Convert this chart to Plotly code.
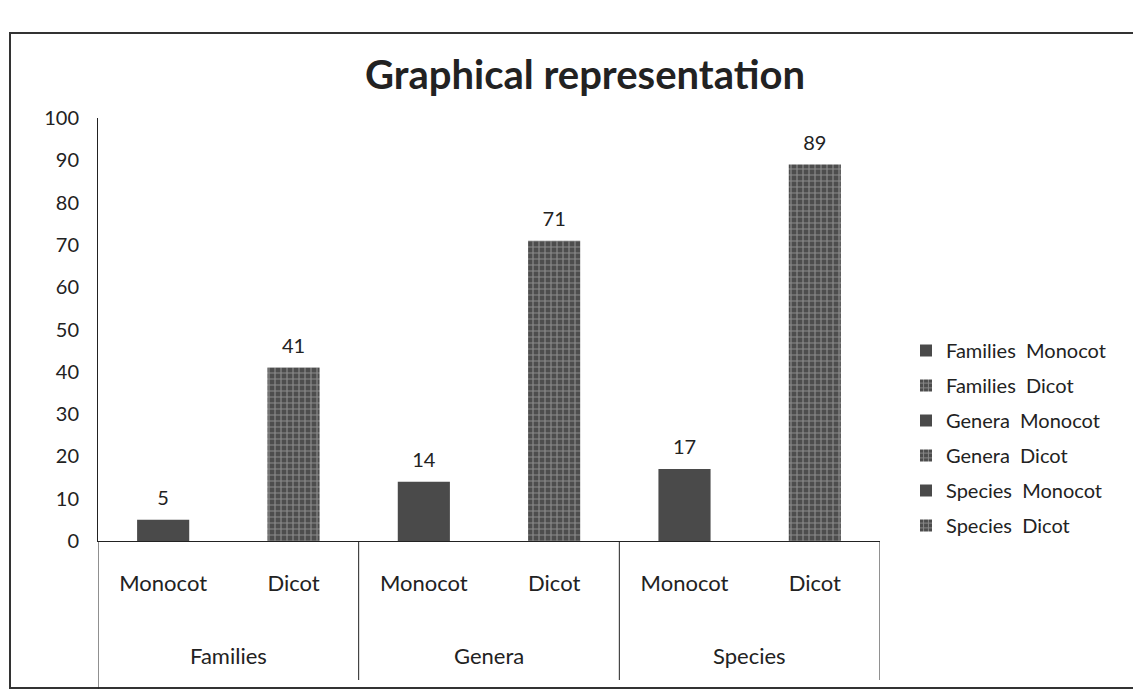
import plotly.graph_objects as go

# ---- data ----
groups = ["Families", "Families", "Genera", "Genera", "Species", "Species"]
subcats = ["Monocot", "Dicot", "Monocot", "Dicot", "Monocot", "Dicot"]
values = [5, 41, 14, 71, 17, 89]
series_names = ["Families  Monocot", "Families  Dicot", "Genera  Monocot",
                "Genera  Dicot", "Species  Monocot", "Species  Dicot"]
y_ticks = [0, 10, 20, 30, 40, 50, 60, 70, 80, 90, 100]

FONT = "Lato, 'Noto Sans', sans-serif"
TXT = "#222222"
cats = [f"{g} {s}" for g, s in zip(groups, subcats)]

fig = go.Figure()
for i in range(len(values)):
    if subcats[i] == "Monocot":
        marker = dict(color="#4a4a4a", line=dict(width=0))
    else:
        marker = dict(color="#4d4d4d", line=dict(width=0),
                      pattern=dict(shape="+", fgcolor="#c8c8c8", bgcolor="#4d4d4d",
                                   size=6, solidity=0.35))
    fig.add_trace(go.Bar(
        x=[cats[i]], y=[values[i]], name=series_names[i],
        marker=marker, width=0.4, legendgroup=series_names[i],
    ))

fig.add_trace(go.Scatter(
    x=cats, y=values, mode="markers+text",
    text=[str(v) for v in values], textposition="top center",
    textfont=dict(size=20, color=TXT, family=FONT),
    marker=dict(size=14, color="rgba(0,0,0,0)"),
    showlegend=False, hoverinfo="skip", cliponaxis=False,
))

# page-pixel helpers (page has an 8px body margin)
OFF = 8
W, H = 1141, 697
L_pg, R_pg = 98, 880
B_pg, T_pg = 541, 118
px0, px1 = L_pg - OFF, R_pg - OFF
py0, py100 = B_pg - OFF, T_pg - OFF
def xp(p): return (p - L_pg) / (R_pg - L_pg)
def yp(p): return (B_pg - p) / (B_pg - T_pg)

# group labels and dividers on the category axis
uniq = []
for g in groups:
    if g not in uniq:
        uniq.append(g)
bounds = [-0.5]
for g in uniq:
    idx = [i for i, gg in enumerate(groups) if gg == g]
    fig.add_annotation(x=(idx[0] + idx[-1]) / 2, xref="x", y=yp(655), yref="paper",
                       text=g, showarrow=False, yanchor="middle",
                       font=dict(size=22, color=TXT, family=FONT))
    bounds.append(idx[-1] + 0.5)
for j, b in enumerate(bounds):
    fig.add_shape(type="line", xref="x", yref="paper", x0=b, x1=b,
                  y0=0, y1=yp(689 if j == 0 else 680),
                  line=dict(color="#222222", width=1))

# outer frame of the printed figure
fig.add_shape(type="rect", xref="paper", yref="paper",
              x0=xp(10), x1=xp(1137), y0=yp(688), y1=yp(33),
              line=dict(color="#333333", width=2), layer="below")

fig.update_layout(
    width=W, height=H,
    margin=dict(l=px0, r=W - px1, t=py100, b=H - py0, autoexpand=False),
    paper_bgcolor="white", plot_bgcolor="white",
    barmode="overlay",
    font=dict(family=FONT, color=TXT),
    title=dict(text="<b>Graphical representation</b>", xref="paper", x=xp(585),
               xanchor="center", yref="container", y=1 - (75 - OFF) / H, yanchor="middle",
               font=dict(size=40, color=TXT, family=FONT)),
    legend=dict(x=xp(906), xanchor="left", y=yp(331), yanchor="top",
                font=dict(size=20, color=TXT, family=FONT),
                tracegroupgap=6, bgcolor="rgba(0,0,0,0)"),
    showlegend=True,
)
fig.update_yaxes(range=[0, 100], tickvals=y_ticks, showgrid=False, zeroline=False,
                 showline=True, linecolor="#222222", linewidth=1,
                 ticks="outside", ticklen=14, tickcolor="rgba(0,0,0,0)",
                 tickfont=dict(size=20, color=TXT, family=FONT))
fig.update_xaxes(type="category", categoryorder="array", categoryarray=cats,
                 range=[-0.5, len(cats) - 0.5],
                 tickvals=cats, ticktext=subcats,
                 showline=True, linecolor="#222222", linewidth=1,
                 ticks="outside", ticklen=23, tickcolor="rgba(0,0,0,0)",
                 tickfont=dict(size=22, color=TXT, family=FONT), showgrid=False)

fig.write_html("out.html")
